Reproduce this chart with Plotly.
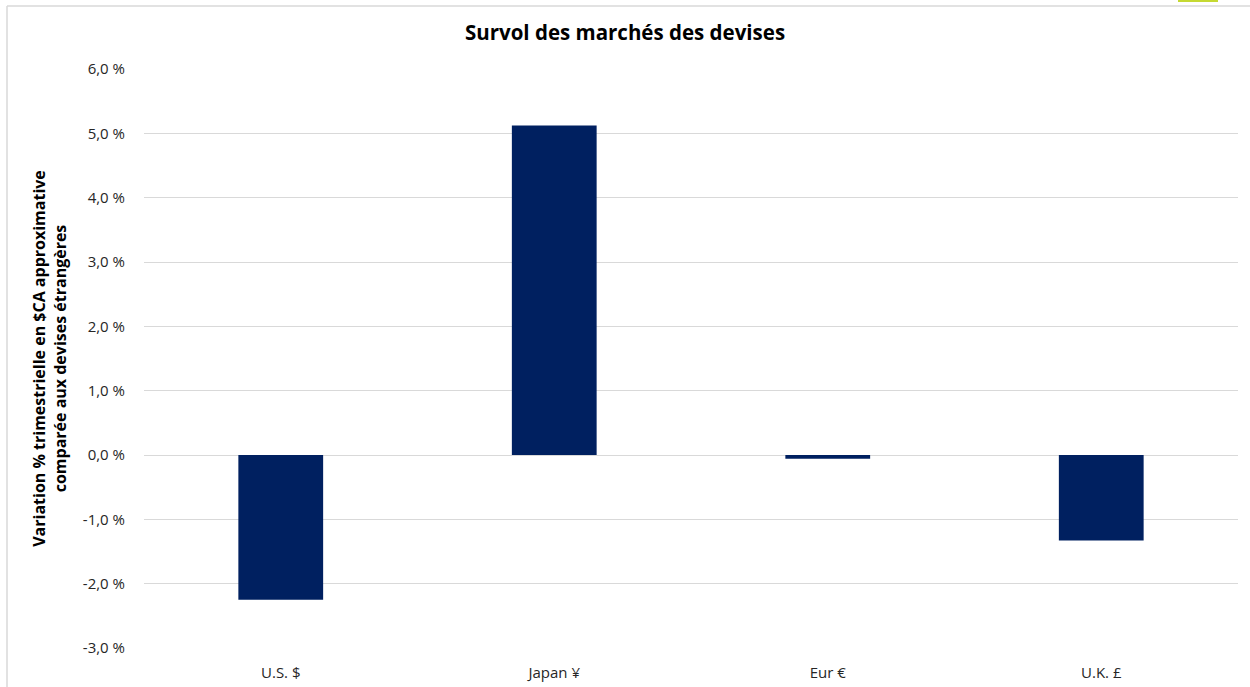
import plotly.graph_objects as go

categories = ["U.S. $", "Japan ¥", "Eur €", "U.K. £"]
values = [-2.25, 5.12, -0.06, -1.33]
tick_vals = [-3, -2, -1, 0, 1, 2, 3, 4, 5, 6]
tick_text = ["-3,0 %", "-2,0 %", "-1,0 %", "0,0 %", "1,0 %", "2,0 %", "3,0 %", "4,0 %", "5,0 %", "6,0 %"]

W, H = 1250, 687
L, R, T, B = 144, 12, 69, 39
pw, ph = W - L - R, H - T - B

def px(x):
    return (x - L) / pw

def py(y):
    return (H - B - y) / ph

font = "Open Sans, Lato, sans-serif"

fig = go.Figure(go.Bar(
    x=categories, y=values, width=0.31,
    marker=dict(color="#002060", line=dict(width=0)),
))

fig.update_layout(
    width=W, height=H,
    margin=dict(l=L, r=R, t=T, b=B, autoexpand=False),
    paper_bgcolor="white", plot_bgcolor="white",
    showlegend=False,
    font=dict(family=font, size=15, color="#262626"),
    title=dict(text="<b>Survol des marchés des devises</b>", x=0.5, xanchor="center",
               y=1 - 33 / H, yanchor="middle",
               font=dict(family=font, size=20.5, color="#000000")),
    xaxis=dict(showgrid=False, showline=False, ticks="", ticklabelstandoff=14, automargin=False,
               tickfont=dict(size=15, color="#262626")),
    yaxis=dict(range=[-3, 6], tickvals=tick_vals, ticktext=tick_text, automargin=False,
               showgrid=True, gridcolor="#d9d9d9", gridwidth=1,
               zeroline=True, zerolinecolor="#d9d9d9", zerolinewidth=1,
               showline=False, ticks="", ticklabelstandoff=18,
               tickfont=dict(size=15, color="#262626"),
               title=dict(text="<b>Variation % trimestrielle en $CA approximative<br>comparée aux devises étrangères</b>",
                          font=dict(size=16, color="#000000"), standoff=12)),
    shapes=[
        dict(type="line", xref="paper", yref="paper", x0=px(7), x1=px(1252), y0=py(6), y1=py(6),
             line=dict(color="#d9d9d9", width=1.5)),
        dict(type="line", xref="paper", yref="paper", x0=px(7), x1=px(7), y0=py(6), y1=py(690),
             line=dict(color="#d9d9d9", width=1.5)),
        dict(type="rect", xref="paper", yref="paper", x0=px(1178), x1=px(1218), y0=py(2), y1=py(-2),
             fillcolor="#c5d932", line=dict(width=0)),
    ],
)

fig.write_html("out.html")
